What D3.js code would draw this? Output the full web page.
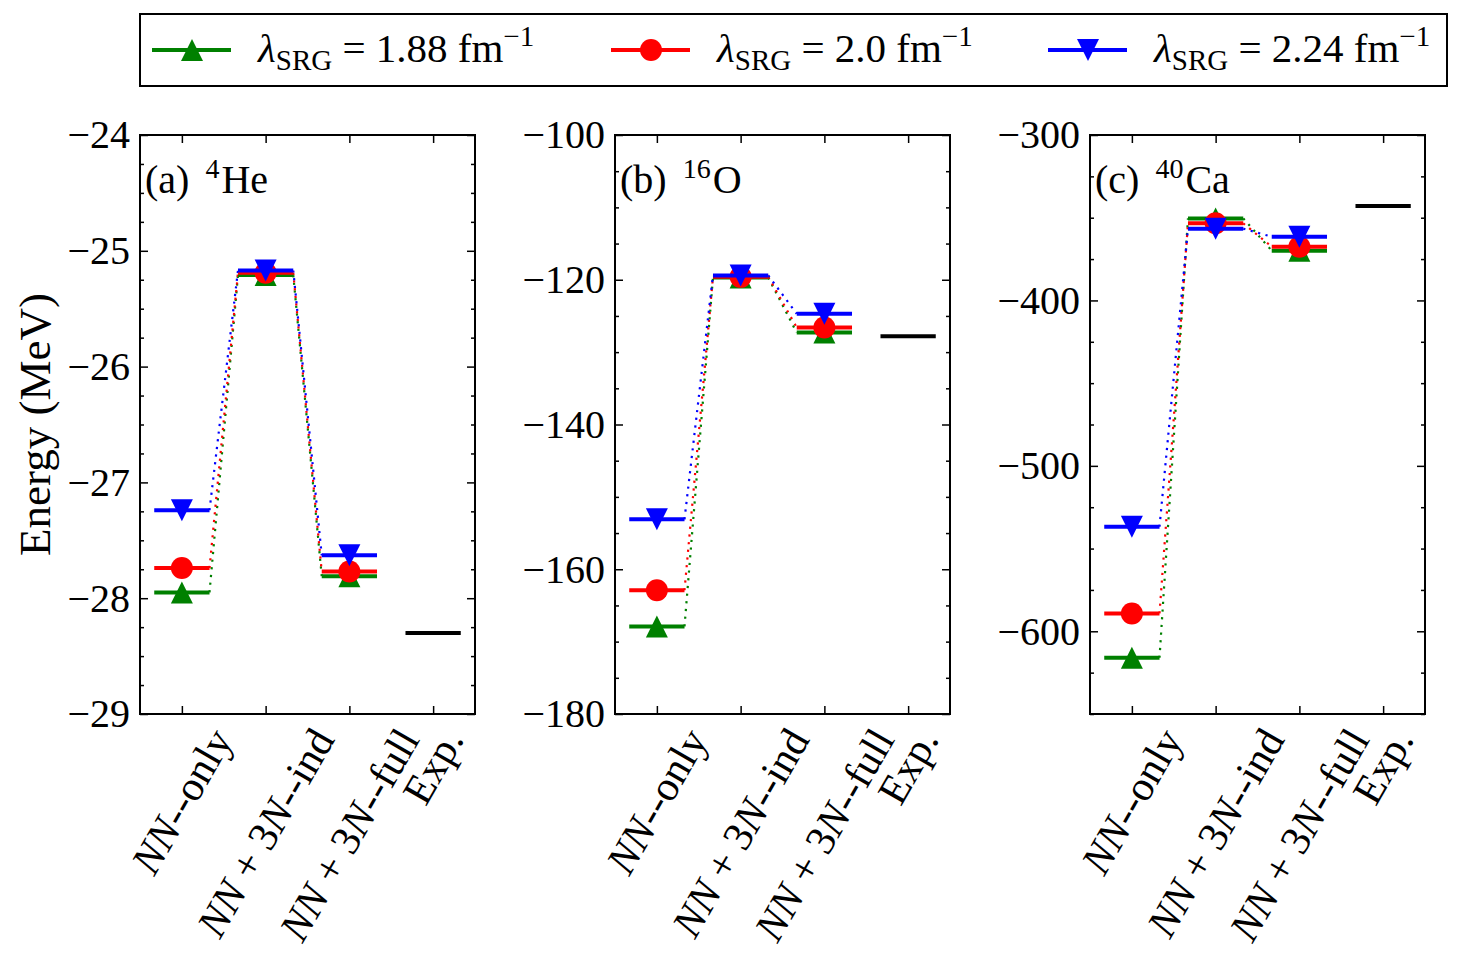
<!DOCTYPE html>
<html>
<head>
<meta charset="utf-8">
<script src="https://cdn.jsdelivr.net/npm/d3@7"></script>
<style>
  body { margin: 0; background: #fff; }
  svg text { font-family: "Liberation Serif", "DejaVu Serif", serif; fill: #000; }
</style>
</head>
<body>
<svg width="1463" height="978"></svg>
<script>
// categories on the x axis ($..$ = italic, like mathtext)
const categories = ["$NN$--only", "$NN$ + 3$N$--ind", "$NN$ + 3$N$--full", "Exp."];

// lambda_SRG values (fm^-1) and their colours / markers
const lambdas = ["1.88", "2.0", "2.24"];
const colors = ["#008000", "#ff0000", "#0000ff"];
const markers = ["up", "circle", "down"];

// 4He : NN-only, NN+3N-ind, NN+3N-full
const he4L188 = [-27.95, -25.21, -27.81];
const he4L20  = [-27.74, -25.19, -27.77];
const he4L224 = [-27.24, -25.17, -27.63];
const he4Exp  = -28.30;

// 16O
const o16L188 = [-167.9, -119.7, -127.3];
const o16L20  = [-162.9, -119.6, -126.6];
const o16L224 = [-153.1, -119.4, -124.7];
const o16Exp  = -127.8;

// 40Ca
const ca40L188 = [-616.0, -350.4, -369.9];
const ca40L20  = [-589.2, -353.4, -367.5];
const ca40L224 = [-536.8, -356.6, -361.5];
const ca40Exp  = -342.9;

const panels = [
  { tag: "(a)", mass: "4",  el: "He", series: [he4L188, he4L20, he4L224], exp: he4Exp,
    domain: [-29, -24], major: 1, minor: 0.25 },
  { tag: "(b)", mass: "16", el: "O",  series: [o16L188, o16L20, o16L224], exp: o16Exp,
    domain: [-180, -100], major: 20, minor: 5 },
  { tag: "(c)", mass: "40", el: "Ca", series: [ca40L188, ca40L20, ca40L224], exp: ca40Exp,
    domain: [-650, -300], major: 100, minor: 25 }
];

const svg = d3.select("svg");
const lefts = [140, 615, 1090];
const plotTop = 135, pw = 335, ph = 579;
const hw = 0.33; // half width of a level line, in category units
const fs = 40;

const markerPath = (type, s) => {
  if (type === "up") return `M0,${-s}L${s},${s}L${-s},${s}Z`;
  if (type === "down") return `M0,${s}L${s},${-s}L${-s},${-s}Z`;
  return d3.arc()({ innerRadius: 0, outerRadius: s, startAngle: 0, endAngle: 2 * Math.PI });
};

const mathText = (sel, str) => {
  str.split("$").forEach((part, i) => {
    if (part.length) sel.append("tspan").attr("font-style", i % 2 ? "italic" : null).text(part);
  });
};

const stepTicks = (d, step) => {
  const out = [];
  for (let k = Math.ceil(d[0] / step - 1e-9); k * step <= d[1] + 1e-9; k++) out.push(+(k * step).toFixed(6));
  return out;
};

panels.forEach((p, pi) => {
  const g = svg.append("g").attr("transform", `translate(${lefts[pi]},${plotTop})`);

  const x = d3.scaleLinear().domain([-0.5, 3.5]).range([0, pw]);
  const y = d3.scaleLinear().domain(p.domain).range([ph, 0]);

  const majors = stepTicks(p.domain, p.major);
  const minors = stepTicks(p.domain, p.minor)
    .filter(v => Math.abs(v / p.major - Math.round(v / p.major)) > 1e-6);

  // ticks (inward, on all four sides)
  const yl = g.append("g").call(d3.axisLeft(y).tickValues(majors).tickSize(-8).tickPadding(10)
    .tickFormat(d3.format("d")));
  yl.selectAll("text").attr("font-size", fs).attr("font-family", null);
  g.append("g").call(d3.axisLeft(y).tickValues(minors).tickSize(-4).tickFormat(""));
  g.append("g").attr("transform", `translate(${pw},0)`)
    .call(d3.axisRight(y).tickValues(majors).tickSize(-8).tickFormat(""));
  g.append("g").attr("transform", `translate(${pw},0)`)
    .call(d3.axisRight(y).tickValues(minors).tickSize(-4).tickFormat(""));
  g.append("g").attr("transform", `translate(0,${ph})`)
    .call(d3.axisBottom(x).tickValues([0, 1, 2, 3]).tickSize(-8).tickFormat(""));
  g.append("g").call(d3.axisTop(x).tickValues([0, 1, 2, 3]).tickSize(-8).tickFormat(""));
  g.selectAll(".domain").remove();
  g.selectAll(".tick line").attr("stroke-width", 1.5);

  // dotted connectors
  p.series.forEach((vals, si) => {
    for (let i = 0; i < vals.length - 1; i++) {
      g.append("line")
        .attr("x1", x(i + hw)).attr("y1", y(vals[i]))
        .attr("x2", x(i + 1 - hw)).attr("y2", y(vals[i + 1]))
        .attr("stroke", colors[si]).attr("stroke-width", 2.2)
        .attr("stroke-dasharray", "2.2,5.5");
    }
  });

  // levels with markers
  p.series.forEach((vals, si) => {
    vals.forEach((v, i) => {
      g.append("line")
        .attr("x1", x(i - hw)).attr("x2", x(i + hw))
        .attr("y1", y(v)).attr("y2", y(v))
        .attr("stroke", colors[si]).attr("stroke-width", 4);
      g.append("path")
        .attr("d", markerPath(markers[si], 11))
        .attr("transform", `translate(${x(i)},${y(v)})`)
        .attr("fill", colors[si]);
    });
  });

  // experiment
  g.append("line")
    .attr("x1", x(3 - hw)).attr("x2", x(3 + hw))
    .attr("y1", y(p.exp)).attr("y2", y(p.exp))
    .attr("stroke", "#000").attr("stroke-width", 4);

  // frame
  g.append("rect").attr("width", pw).attr("height", ph)
    .attr("fill", "none").attr("stroke", "#000").attr("stroke-width", 2);

  // panel label
  const lab = g.append("text").attr("x", 5).attr("y", 58).attr("font-size", 40);
  lab.append("tspan").text(p.tag);
  lab.append("tspan").attr("font-size", 28).attr("dx", 16).attr("dy", -15).text(p.mass);
  lab.append("tspan").attr("dx", 2).attr("dy", 15).text(p.el);

  // rotated category labels, bbox centred under each tick
  categories.forEach((c, i) => {
    const t = g.append("text").attr("font-size", 42)
      .attr("text-anchor", "middle").attr("dominant-baseline", "central");
    mathText(t, c);
    const w = t.node().getComputedTextLength();
    const ang = 60 * Math.PI / 180;
    const bh = w * Math.sin(ang) + 42 * Math.cos(ang);
    const cx = x(i), cy = ph + 8 + bh / 2;
    t.attr("transform", `translate(${cx},${cy}) rotate(-60)`);
  });
});

// y label
svg.append("text")
  .attr("transform", `translate(50,${plotTop + ph / 2}) rotate(-90)`)
  .attr("text-anchor", "middle").attr("font-size", 45)
  .text("Energy (MeV)");

// legend
const leg = svg.append("g");
leg.append("rect").attr("x", 140).attr("y", 14).attr("width", 1307).attr("height", 72)
  .attr("fill", "#fff").attr("stroke", "#000").attr("stroke-width", 2);
const legX = [152, 611, 1048];
lambdas.forEach((l, i) => {
  const lg = leg.append("g").attr("transform", `translate(${legX[i]},50)`);
  lg.append("line").attr("x1", 0).attr("x2", 79).attr("stroke", colors[i]).attr("stroke-width", 4);
  lg.append("path").attr("d", markerPath(markers[i], 11))
    .attr("transform", "translate(40,0)").attr("fill", colors[i]);
  const t = lg.append("text").attr("x", 106).attr("y", 12).attr("font-size", 41);
  t.append("tspan").attr("font-style", "italic").text("λ");
  t.append("tspan").attr("font-size", 29).attr("dy", 8).text("SRG");
  t.append("tspan").attr("dy", -8).text(` = ${l} fm`);
  t.append("tspan").attr("font-size", 29).attr("dy", -16).text("−1");
});
</script>
</body>
</html>
